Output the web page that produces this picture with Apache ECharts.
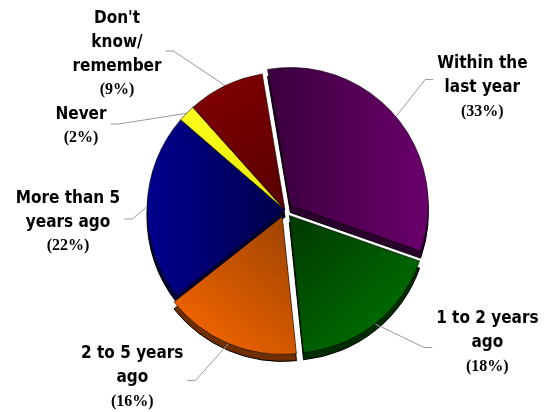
<!DOCTYPE html>
<html>
<head>
<meta charset="utf-8">
<script src="https://cdn.jsdelivr.net/npm/echarts@6/dist/echarts.min.js"></script>
<style>
  html, body { margin: 0; padding: 0; background: #ffffff; }
  #chart { width: 546px; height: 412px; }
</style>
</head>
<body>
<div id="chart"></div>
<script>
// Survey answers, clockwise from the top
const categories = ["Within the\nlast year", "1 to 2 years\nago", "2 to 5 years\nago", "More than 5\nyears ago", "Never", "Don't\nknow/\nremember"];
const values = [33, 18, 16, 22, 2, 9];
const pulledOut = [true, true, true, false, false, false];

// Face gradients [x, y, x2, y2, fromColor, toColor] and side colours of the extruded pie
const faceFills = [
  [0, 0, 1, 0, '#3a003c', '#6a006c'],
  [0, 0, 1, 1, '#003800', '#007a00'],
  [0, 1, 1, 0, '#ff6a00', '#9a4200'],
  [0, 0, 1, 0, '#00008e', '#00004a'],
  [0, 0, 1, 1, '#ffff20', '#e6e600'],
  [0, 0, 1, 1, '#860000', '#560000']
];
const sideColors = ['#2a002c', '#002c00', '#6e2e00', '#000038', '#6a6a00', '#3c0000'];

// Centre of each label block, and the height where its leader line meets it
const labelSpots = [[477, 92], [483, 337], [135, 371], [68, 222], [81, 126], [117, 54]];
const leaderRows = [84, 342, 374, 219, 124, 51];

const center = [285, 210];
const depth = 7;
const radius = 138;
const startAngle = 99.5;

const chart = echarts.init(document.getElementById('chart'), null, { renderer: 'canvas' });

const faceData = categories.map((name, i) => ({
  name: name,
  value: values[i],
  selected: pulledOut[i],
  itemStyle: {
    color: new echarts.graphic.LinearGradient(faceFills[i][0], faceFills[i][1], faceFills[i][2], faceFills[i][3], [
      { offset: 0, color: faceFills[i][4] },
      { offset: 1, color: faceFills[i][5] }
    ])
  }
}));

const sideData = categories.map((name, i) => ({
  name: name,
  value: values[i],
  selected: pulledOut[i],
  itemStyle: { color: sideColors[i] }
}));

chart.setOption({
  animation: false,
  backgroundColor: '#ffffff',
  series: [
    {
      type: 'pie',
      silent: true,
      z: 1,
      center: [center[0], center[1] + depth],
      radius: radius,
      startAngle: startAngle,
      clockwise: true,
      selectedMode: 'multiple',
      selectedOffset: 7,
      label: { show: false },
      labelLine: { show: false },
      itemStyle: { borderColor: '#000000', borderWidth: 1 },
      data: sideData
    },
    {
      type: 'pie',
      silent: true,
      z: 2,
      center: center,
      radius: radius,
      startAngle: startAngle,
      clockwise: true,
      selectedMode: 'multiple',
      selectedOffset: 7,
      itemStyle: { borderColor: 'rgba(0,0,0,0.55)', borderWidth: 1 },
      label: {
        show: true,
        position: 'outside',
        color: '#000000',
        formatter: p => '{n|' + p.name + '}\n{p|(' + p.value + '%)}',
        rich: {
          n: { fontFamily: "'DejaVu Sans Condensed', 'DejaVu Sans'", fontWeight: 'bold', fontSize: 17, lineHeight: 24, color: '#000000', align: 'center' },
          p: { fontFamily: 'Liberation Serif', fontWeight: 'bold', fontSize: 16, lineHeight: 23, color: '#000000', align: 'center' }
        }
      },
      labelLine: {
        show: true,
        length: 12,
        length2: 10,
        smooth: false,
        lineStyle: { color: '#9a9a9a', width: 1 }
      },
      labelLayout: p => {
        const s = labelSpots[p.dataIndex];
        const row = leaderRows[p.dataIndex];
        const r = p.labelRect;
        const anchor = p.labelLinePoints ? p.labelLinePoints[0] : [center[0], center[1]];
        const onRight = s[0] > center[0];
        const endX = onRight ? s[0] - r.width / 2 - 4 : s[0] + r.width / 2 + 4;
        const bendX = onRight ? endX - 8 : endX + 8;
        return {
          dx: s[0] - (r.x + r.width / 2),
          dy: s[1] - (r.y + r.height / 2),
          labelLinePoints: [anchor, [bendX, row], [endX, row]]
        };
      },
      data: faceData
    }
  ]
});
</script>
</body>
</html>
